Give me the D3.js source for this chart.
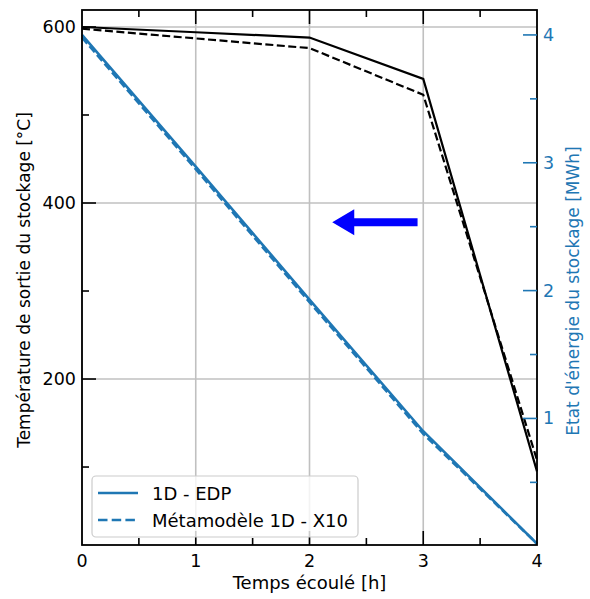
<!DOCTYPE html>
<html><head><meta charset="utf-8">
<script src="https://cdn.jsdelivr.net/npm/d3@7"></script>
<style>body{margin:0;background:#fff;} svg{display:block;} text{font-family:"DejaVu Sans",sans-serif;}</style>
</head><body>
<svg id="c" width="590" height="599"></svg>
<script>
const time = [0, 1, 2, 3, 4];
const tempEDP = [600, 594, 588, 541, 95];
const tempMeta = [598, 587, 576, 523, 108];
const energyEDP = [4.0, 2.97, 1.93, 0.90, 0.02];
const energyMeta = [3.98, 2.95, 1.91, 0.88, 0.02];
const xTicks = [0, 1, 2, 3, 4];
const xMinor = [0.5, 1.5, 2.5, 3.5];
const yLTicks = [200, 400, 600];
const yLMinor = [100, 300, 500];
const yRTicks = [1, 2, 3, 4];
const yRMinor = [0.5, 1.5, 2.5, 3.5];
const legendLabels = ["1D - EDP", "Métamodèle 1D - X10"];
const arrowFrom = [2.95, 378];
const arrowTo = [2.2, 378];

const BLUE = "#1f77b4";
const svg = d3.select("#c");
const L = 82, R = 537, T = 10, B = 545;
const x = d3.scaleLinear().domain([0, 4]).range([L, R]);
const yL = d3.scaleLinear().domain([11.4, 619.3]).range([B, T]);
const yR = d3.scaleLinear().domain([0.01, 4.195]).range([B, T]);

// grid
const g = svg.append("g");
g.selectAll(".gx").data(xTicks).join("line")
  .attr("x1", d => x(d)).attr("x2", d => x(d)).attr("y1", T).attr("y2", B)
  .attr("stroke", "#c0c0c0").attr("stroke-width", 1.6);
g.selectAll(".gy").data(yLTicks).join("line")
  .attr("y1", d => yL(d)).attr("y2", d => yL(d)).attr("x1", L).attr("x2", R)
  .attr("stroke", "#c0c0c0").attr("stroke-width", 1.6);

const lineL = (vals) => d3.line().x((d, i) => x(time[i])).y(d => yL(d))(vals);
const lineR = (vals) => d3.line().x((d, i) => x(time[i])).y(d => yR(d))(vals);

svg.append("path").attr("d", lineL(tempEDP)).attr("fill", "none").attr("stroke", "#000").attr("stroke-width", 2.2);
svg.append("path").attr("d", lineL(tempMeta)).attr("fill", "none").attr("stroke", "#000").attr("stroke-width", 2.2).attr("stroke-dasharray", "8,3.5");

// arrow
const ax0 = x(arrowFrom[0]), ay = yL(arrowFrom[1]), ax1 = x(arrowTo[0]);
const headLen = 22, headHalf = 13, shaftHalf = 4;
svg.append("path").attr("fill", "#0000ff")
  .attr("d", `M${ax0},${ay - shaftHalf} L${ax1 + headLen},${ay - shaftHalf} L${ax1 + headLen},${ay - headHalf} L${ax1},${ay} L${ax1 + headLen},${ay + headHalf} L${ax1 + headLen},${ay + shaftHalf} L${ax0},${ay + shaftHalf} Z`);

svg.append("path").attr("d", lineR(energyEDP)).attr("fill", "none").attr("stroke", BLUE).attr("stroke-width", 2.6);
svg.append("path").attr("d", lineR(energyMeta)).attr("fill", "none").attr("stroke", BLUE).attr("stroke-width", 2.6).attr("stroke-dasharray", "8,3.5");

// spines
svg.append("rect").attr("x", L).attr("y", T).attr("width", R - L).attr("height", B - T)
  .attr("fill", "none").attr("stroke", "#000").attr("stroke-width", 1.8);

// ticks
const tk = svg.append("g").attr("stroke-width", 1.6);
function vt(vals, len, y0, dir, color) {
  tk.selectAll(null).data(vals).join("line")
    .attr("x1", d => x(d)).attr("x2", d => x(d)).attr("y1", y0).attr("y2", y0 + dir * len).attr("stroke", color);
}
vt(xTicks.slice(1, 4), 14, B, -1, "#000");
vt(xMinor, 7, B, -1, "#000");
vt(xTicks.slice(1, 4), 14, T, 1, "#000");
vt(xMinor, 7, T, 1, "#000");
function ht(vals, sc, len, x0, dir, color) {
  tk.selectAll(null).data(vals).join("line")
    .attr("y1", d => sc(d)).attr("y2", d => sc(d)).attr("x1", x0).attr("x2", x0 + dir * len).attr("stroke", color);
}
ht(yLTicks, yL, 14, L, 1, "#000");
ht(yLMinor, yL, 7, L, 1, "#000");
ht(yRTicks, yR, 14, R, -1, BLUE);
ht(yRMinor, yR, 7, R, -1, BLUE);

// tick labels
const FS = 17.5;
svg.selectAll(null).data(xTicks).join("text").attr("x", d => x(d)).attr("y", B + 22)
  .attr("text-anchor", "middle").attr("font-size", FS).attr("fill", "#000").text(d => d);
svg.selectAll(null).data(yLTicks).join("text").attr("x", L - 6).attr("y", d => yL(d) + 6)
  .attr("text-anchor", "end").attr("font-size", FS).attr("fill", "#000").text(d => d);
svg.selectAll(null).data(yRTicks).join("text").attr("x", R + 6).attr("y", d => yR(d) + 6)
  .attr("text-anchor", "start").attr("font-size", FS).attr("fill", BLUE).text(d => d);

// axis labels
svg.append("text").attr("x", (L + R) / 2).attr("y", 589).attr("text-anchor", "middle")
  .attr("font-size", 18).text("Temps écoulé [h]");
svg.append("text").attr("transform", `translate(30,280) rotate(-90)`).attr("text-anchor", "middle")
  .attr("font-size", 17).text("Température de sortie du stockage [°C]");
svg.append("text").attr("transform", `translate(579,291) rotate(-90)`).attr("text-anchor", "middle")
  .attr("font-size", 17).attr("fill", BLUE).text("Etat d'énergie du stockage [MWh]");

// legend
const lg = svg.append("g");
lg.append("rect").attr("x", 92).attr("y", 476).attr("width", 266).attr("height", 61).attr("rx", 4)
  .attr("fill", "rgba(255,255,255,0.8)").attr("stroke", "#cccccc").attr("stroke-width", 1.2);
legendLabels.forEach((lab, i) => {
  const yy = 493 + i * 27;
  lg.append("line").attr("x1", 98).attr("x2", 138).attr("y1", yy).attr("y2", yy)
    .attr("stroke", BLUE).attr("stroke-width", 2.6).attr("stroke-dasharray", i ? "9.5,4.2" : null);
  lg.append("text").attr("x", 152).attr("y", yy + 6.5).attr("font-size", 18).text(lab);
});
</script>
</body></html>
